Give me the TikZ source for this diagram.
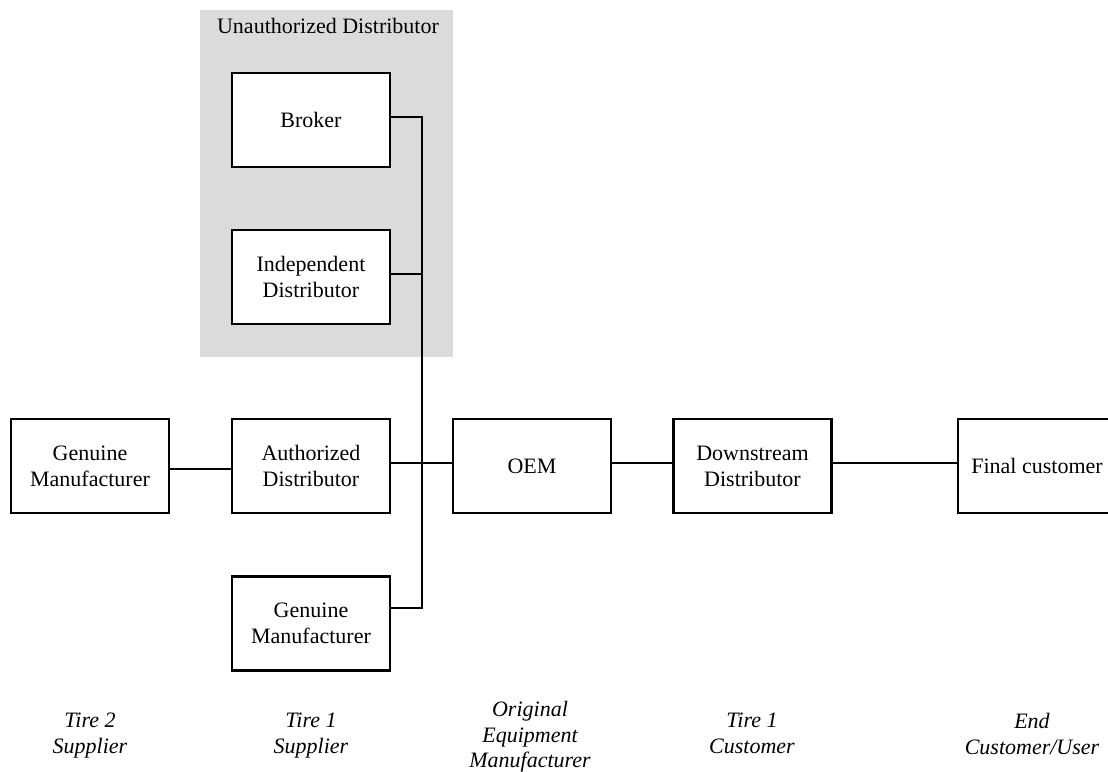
\documentclass[tikz,border=0pt]{standalone}
\usepackage{fontspec}
\setmainfont{Liberation Serif}
\begin{document}
\begin{tikzpicture}[x=0.5pt,y=-0.5pt,line width=1.2pt]
		\tikzstyle{block}=[rectangle,draw=black,fill=white,minimum width=79pt,minimum height=47pt,inner sep=0,align=center,font=\fontsize{11}{13}\selectfont]
		\tikzstyle{tier}=[align=center,anchor=north,inner sep=0,font=\fontsize{11}{12.8}\selectfont\itshape]
		\useasboundingbox (0,0) rectangle (1108,771);
		\clip (0,0) rectangle (1108,771);

		\node[fill=black!14,minimum width=126.5pt,minimum height=173.5pt,inner sep=0] (unauth) at (326.5,183.5) {};
		\node[font=\fontsize{11}{13}\selectfont] (unauthtitle) at (328,26) {Unauthorized Distributor};

		\node[block] (broker) at (311,120) {Broker};
		\node[block] (indep) at (311,277) {Independent\\Distributor};
		\node[block] (gm1) at (90,466) {Genuine\\Manufacturer};
		\node[block] (auth) at (311,466) {Authorized\\Distributor};
		\node[block] (gm2) at (311,623.5) {Genuine\\Manufacturer};
		\node[block] (oem) at (532,466) {OEM};
		\node[block] (down) at (752.5,466) {Downstream\\Distributor};
		\node[block] (final) at (1037,466) {Final customer};

		\coordinate (bus) at (422,466);
		\draw ([yshift=1.5pt]broker.east) -- ([yshift=1.5pt]broker.east -| bus) |- ([yshift=7.8pt]gm2.east);
		\draw ([yshift=1.5pt]indep.east) -- ([yshift=1.5pt]indep.east -| bus);
		\draw ([yshift=-1.5pt]gm1.east) -- ([yshift=-1.5pt]auth.west);
		\draw ([yshift=1.5pt]auth.east) -- ([yshift=1.5pt]oem.west);
		\draw ([yshift=1.5pt]oem.east) -- ([yshift=1.5pt]down.west);
		\draw ([yshift=1.5pt]down.east) -- ([yshift=1.5pt]final.west);

		\node[tier] (t2sup) at (90,712) {Tire 2\\Supplier};
		\node[tier] (t1sup) at (311,712) {Tire 1\\Supplier};
		\node[tier] (oemtier) at (530,700) {Original\\Equipment\\Manufacturer};
		\node[tier] (t1cus) at (752,712) {Tire 1\\Customer};
		\node[tier] (endcus) at (1032,712) {End\\Customer/User};
	\end{tikzpicture}
\end{document}
